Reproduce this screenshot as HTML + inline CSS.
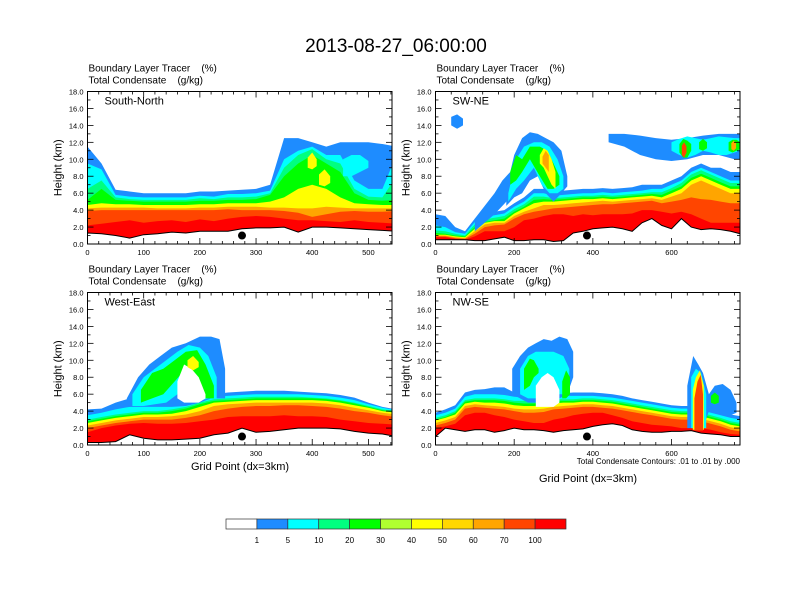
<!DOCTYPE html>
<html><head><meta charset="utf-8">
<style>
html,body{margin:0;padding:0;background:#fff;}
body{width:792px;height:612px;overflow:hidden;font-family:"Liberation Sans",sans-serif;}
svg{display:block}
text{white-space:pre}
</style></head>
<body>
<svg id="fig" width="792" height="612" viewBox="0 0 792 612" xmlns="http://www.w3.org/2000/svg" font-family="Liberation Sans, sans-serif">
<text x="396" y="52" font-size="19" text-anchor="middle">2013-08-27_06:00:00</text>
<g id="panels"></g>
<g id="cbar"></g>
<text x="740" y="464" font-size="8" text-anchor="end">Total Condensate Contours: .01 to .01 by .000</text>
</svg>
<script>
// ---------- colour levels ----------
const levelColors = ["#ffffff","#1e8cff","#00ffff","#00ff80","#00ff00","#b0ff30","#ffff00","#ffd700","#ffa500","#ff4500","#ff0000"];
const levelLabels = ["1","5","10","20","30","40","50","60","70","100"];
const bandNames = ["blue","cyan","springgreen","green","yellow","orange","orangered","red"];
const bandColors = {blue:"#1e8cff",cyan:"#00ffff",springgreen:"#00ff80",green:"#00ff00",yellow:"#ffff00",orange:"#ffa500",orangered:"#ff4500",red:"#ff0000",white:"#ffffff",gold:"#ffd700"};

// ---------- Panel 1 : South-North ----------
const p1x = [0,25,50,75,100,125,150,175,200,225,250,275,300,325,350,375,400,425,450,475,500,525,550];
const p1ground = [1.3,1.2,1.0,0.7,1.1,1.2,1.4,1.3,1.5,1.5,1.5,1.8,1.9,1.9,2.0,1.4,2.0,2.0,1.9,1.8,1.7,1.6,1.5];
const p1red = [2.2,2.4,2.6,2.8,2.5,2.7,2.8,2.6,2.9,2.7,3.0,3.2,3.3,3.2,3.0,2.8,2.8,2.7,2.6,2.8,2.6,2.5,2.4];
const p1orangered = [3.9,4.0,4.0,4.0,4.0,4.0,4.0,4.0,4.0,4.0,4.1,4.0,4.0,4.0,3.9,3.7,3.2,3.5,3.8,3.9,3.8,3.8,3.9];
const p1orange = [4.2,4.3,4.3,4.3,4.3,4.2,4.2,4.2,4.3,4.3,4.4,4.4,4.4,4.3,4.3,4.2,4.2,4.4,4.3,4.2,4.2,4.2,4.2];
const p1yellow = [4.6,4.8,4.7,4.7,4.6,4.6,4.6,4.6,4.7,4.7,4.8,4.8,4.8,5.0,5.5,6.5,7.0,6.5,5.5,4.8,4.7,4.6,4.6];
const p1green = [5.2,6.5,5.2,5.1,5.0,5.0,5.0,5.0,5.1,5.1,5.2,5.2,5.3,5.8,8.0,9.5,10.5,9.5,8.5,6.0,5.2,5.1,5.2];
const p1springgreen = [6.5,7.5,5.5,5.3,5.2,5.2,5.2,5.2,5.4,5.3,5.5,5.5,5.6,6.0,9.0,10.5,11.2,10.0,9.5,6.5,5.6,5.5,8.0];
const p1cyan = [9.5,8.8,5.8,5.6,5.5,5.5,5.5,5.5,5.7,5.6,5.9,5.9,6.0,6.3,10.0,11.0,11.5,10.5,10.5,7.5,6.5,6.5,10.5];
const p1blue = [11.5,9.5,6.4,6.2,6.0,6.0,6.0,6.0,6.2,6.2,6.3,6.4,6.5,7.0,12.5,12.5,12.0,11.5,12.0,12.0,12.0,11.8,11.5];
const p1blobs = [
 {band:"cyan", x:[455,470,485,500], lo:[8.0,8.0,8.5,9.0], hi:[10.0,10.5,10.5,9.8]},
 {band:"yellow", x:[392,400,408], lo:[9.0,8.8,9.2], hi:[10.2,10.8,10.0]},
 {band:"yellow", x:[412,422,432], lo:[7.0,6.8,7.2], hi:[8.2,8.8,8.0]}
];

// ---------- Panel 2 : SW-NE ----------
const p2x = [0,25,50,75,100,125,150,175,200,225,250,275,300,325,350,375,400,425,450,475,500,525,550,575,600,625,650,675,700,725,750,775];
const p2ground = [0.5,0.5,0.5,0.5,0.4,0.4,0.6,0.8,0.4,0.4,0.5,0.5,0.3,0.4,1.3,1.5,1.8,1.9,2.0,1.8,1.5,2.5,3.0,2.2,1.8,3.0,2.0,1.7,1.8,1.7,1.5,1.2];
const p2red = [0.8,0.8,0.6,0.5,0.9,1.5,1.5,1.5,2.0,2.8,3.0,3.3,3.5,3.5,3.3,3.5,3.4,3.5,3.5,3.5,3.6,4.0,4.0,3.8,3.6,3.8,3.5,3.0,2.5,2.5,2.5,2.5];
const p2orangered = [0.9,0.9,0.7,0.6,1.2,2.0,2.2,2.3,3.0,3.5,3.8,4.0,4.2,4.3,4.4,4.5,4.6,4.7,4.7,4.8,4.9,5.0,5.1,4.8,5.0,5.2,5.5,5.3,5.2,5.0,4.8,4.8];
const p2orange = [1.0,1.0,0.8,0.7,1.5,2.3,2.5,2.5,3.3,3.8,4.2,4.6,4.6,4.7,4.8,4.9,5.0,5.1,5.0,5.1,5.2,5.3,5.4,5.2,5.6,6.0,7.0,7.5,7.0,6.5,6.0,6.0];
const p2yellow = [1.1,1.1,0.9,0.8,1.8,2.5,2.7,2.7,3.6,4.2,4.8,5.0,5.0,5.1,5.2,5.3,5.3,5.4,5.3,5.4,5.5,5.6,5.7,5.5,6.0,6.5,7.5,8.0,7.5,7.0,6.5,6.5];
const p2green = [1.3,1.2,1.0,0.9,2.0,2.6,2.8,3.0,3.8,4.4,5.2,5.3,5.2,5.3,5.4,5.5,5.5,5.6,5.5,5.6,5.7,5.8,5.9,5.8,6.3,6.8,7.8,8.3,7.8,7.3,6.8,6.8];
const p2springgreen = [1.6,1.5,1.2,1.0,2.3,2.9,3.1,3.3,4.1,4.7,5.6,5.6,5.4,5.5,5.6,5.7,5.7,5.8,5.7,5.8,5.9,6.0,6.1,6.1,6.6,7.2,8.2,8.7,8.2,7.7,7.2,7.2];
const p2cyan = [2.2,2.0,1.4,1.2,2.6,3.2,3.4,3.6,4.4,5.0,6.0,6.0,5.7,5.8,5.9,6.0,6.0,6.1,6.0,6.1,6.2,6.3,6.5,6.5,7.0,7.5,8.5,9.0,8.5,8.0,7.5,7.5];
const p2blue = [3.5,3.3,2.0,1.5,3.0,3.6,3.8,4.0,4.8,5.5,6.5,6.5,6.2,6.3,6.4,6.5,6.5,6.6,6.5,6.6,6.7,7.0,7.0,7.0,7.5,8.0,9.0,9.5,9.0,9.0,8.5,8.5];
const p2blobs = [
 {band:"blue", x:[40,55,70], lo:[14.0,13.6,14.0], hi:[15.0,15.3,14.8]},
 {band:"blue", x:[100,125,150,170,190], lo:[1.5,2.5,3.5,4.5,5.5], hi:[3.0,4.5,6.0,7.5,8.5]},
 {band:"blue", x:[180,200,220,240,260,280,300,320,335], lo:[4.5,5.5,6.0,7.5,8.0,6.0,5.0,6.0,6.8], hi:[6.5,10.5,12.5,13.2,13.0,12.5,12.0,11.0,8.0]},
 {band:"cyan", x:[185,205,225,250,270,290,310,325], lo:[5.0,6.5,7.5,9.0,7.0,6.0,6.0,6.5], hi:[6.0,10.0,11.5,12.0,12.0,11.5,10.0,8.0]},
 {band:"green", x:[190,205,220,240,265,285,300,315], lo:[7.0,7.5,8.5,10.0,8.0,6.5,6.5,7.0], hi:[8.5,10.5,10.0,11.5,11.5,11.0,9.5,8.0]},
 {band:"yellow", x:[265,275,285,295,305], lo:[9.5,9.0,8.0,7.0,6.5], hi:[10.5,11.3,11.0,10.0,8.5]},
 {band:"orange", x:[272,280,288], lo:[9.5,9.0,8.5], hi:[10.3,11.0,10.5]},
 {band:"blue", x:[440,480,520,560,600,640,680,720,760,775], lo:[12.0,11.5,10.5,10.0,9.8,10.0,10.5,10.5,10.0,10.0], hi:[13.0,13.0,12.8,12.5,12.3,12.5,12.8,13.0,13.0,13.0]},
 {band:"cyan", x:[600,620,640,660,680,700,720,740,760,775], lo:[11.0,10.5,10.2,10.5,11.0,10.8,10.5,10.5,10.8,11.0], hi:[12.0,12.4,12.7,12.5,12.3,12.5,12.7,12.6,12.5,12.5]},
 {band:"green", x:[620,630,640,650], lo:[10.8,10.2,10.2,11.0], hi:[11.8,12.4,12.2,11.8]},
 {band:"orangered", x:[626,632,638], lo:[10.5,10.2,10.8], hi:[11.6,12.0,11.5]},
 {band:"green", x:[670,680,690], lo:[11.2,11.0,11.3], hi:[12.0,12.4,12.0]},
 {band:"green", x:[745,755,765,775], lo:[11.0,10.8,11.0,11.2], hi:[12.0,12.3,12.3,12.0]},
 {band:"orange", x:[752,758,764], lo:[11.2,11.0,11.3], hi:[11.9,12.2,11.9]}
];

// ---------- Panel 3 : West-East ----------
const p3x = [0,25,50,75,100,125,150,175,200,225,250,275,300,325,350,375,400,425,450,475,500,525,550];
const p3ground = [0.3,0.3,0.4,1.2,0.8,0.6,0.6,0.7,0.8,1.2,1.4,2.0,1.5,1.6,1.8,2.0,2.0,2.0,1.9,1.6,1.4,1.3,1.0];
const p3red = [1.5,2.0,2.3,2.5,2.6,2.5,2.5,2.6,2.8,3.0,3.3,3.4,3.4,3.4,3.5,3.4,3.4,3.3,3.0,2.8,2.6,2.5,2.4];
const p3orangered = [2.0,2.3,2.6,2.8,3.0,3.0,3.0,3.2,3.5,4.0,4.3,4.5,4.6,4.6,4.7,4.7,4.6,4.5,4.3,4.0,3.8,3.5,3.3];
const p3orange = [2.3,2.6,2.9,3.1,3.3,3.3,3.4,3.6,4.0,4.6,4.8,4.9,5.0,5.0,5.0,5.0,5.0,4.9,4.7,4.4,4.1,3.8,3.6];
const p3yellow = [2.6,2.9,3.2,3.4,3.6,3.6,3.7,4.0,4.5,5.0,5.1,5.2,5.3,5.3,5.3,5.3,5.3,5.2,5.0,4.7,4.4,4.0,3.8];
const p3green = [2.8,3.1,3.4,3.6,3.8,3.8,4.0,4.3,4.8,5.2,5.3,5.4,5.5,5.5,5.5,5.5,5.5,5.4,5.2,4.9,4.5,4.1,3.9];
const p3springgreen = [3.0,3.3,3.6,3.8,4.0,4.0,4.2,4.5,5.0,5.4,5.5,5.6,5.7,5.7,5.7,5.7,5.6,5.5,5.3,5.0,4.6,4.2,4.0];
const p3cyan = [3.5,3.8,4.2,4.5,4.6,4.7,4.8,5.0,5.3,5.7,5.8,5.9,6.0,6.0,6.0,6.0,5.9,5.8,5.6,5.3,4.8,4.4,4.1];
const p3blue = [4.2,4.3,5.0,5.5,6.0,6.5,7.0,6.0,5.5,6.0,6.2,6.3,6.4,6.4,6.4,6.3,6.2,6.1,5.9,5.6,5.0,4.5,4.2];
const p3blobs = [
 {band:"blue", x:[70,90,110,130,150,175,200,220,235,245], lo:[4.5,4.5,4.5,4.5,4.5,4.6,5.0,5.5,5.5,5.5], hi:[5.5,8.0,9.5,10.5,11.5,12.0,12.8,12.8,12.5,9.0]},
 {band:"cyan", x:[80,100,120,140,160,180,200,215,230], lo:[4.6,4.6,4.8,5.0,6.0,6.0,5.2,5.5,5.5], hi:[6.0,8.0,9.0,10.0,11.0,11.8,11.5,10.5,8.0]},
 {band:"green", x:[95,115,135,155,175,195,210,225], lo:[5.0,5.5,6.0,7.5,9.0,6.5,5.5,5.5], hi:[6.5,8.5,9.0,10.0,11.0,11.2,9.5,7.0]},
 {band:"white", x:[160,172,185,198,210], lo:[5.5,5.0,5.0,5.0,5.5], hi:[7.5,9.5,9.0,8.0,6.0]},
 {band:"yellow", x:[178,188,198], lo:[9.2,8.8,9.2], hi:[10.0,10.5,9.8]}
];

// ---------- Panel 4 : NW-SE ----------
const p4x = [0,25,50,75,100,125,150,175,200,225,250,275,300,325,350,375,400,425,450,475,500,525,550,575,600,625,650,675,700,725,750,775];
const p4ground = [1.0,2.0,1.8,1.6,1.8,1.8,1.5,1.7,2.0,1.8,1.8,1.7,1.5,1.7,1.8,1.9,2.2,2.4,2.5,2.3,1.8,1.6,1.5,1.5,1.6,1.6,1.7,1.4,1.3,1.2,1.0,1.0];
const p4red = [2.0,2.2,2.5,3.5,3.8,3.8,3.5,3.3,3.0,2.8,2.6,2.6,3.0,3.2,3.5,3.7,3.8,3.8,3.5,3.2,2.8,2.6,2.4,2.3,2.2,2.0,2.0,2.0,1.8,1.5,1.3,1.2];
const p4orangered = [2.3,2.6,3.0,4.3,4.5,4.4,4.3,4.2,4.0,3.8,3.8,3.9,4.2,4.3,4.4,4.5,4.5,4.4,4.3,4.1,3.9,3.7,3.5,3.3,3.1,3.0,3.0,2.8,2.5,2.2,1.8,1.6];
const p4orange = [2.6,2.9,3.3,4.6,4.8,4.7,4.6,4.5,4.3,4.2,4.2,4.3,4.5,4.6,4.7,4.8,4.8,4.7,4.6,4.4,4.2,4.0,3.8,3.6,3.4,3.3,3.3,3.1,2.8,2.5,2.1,1.9];
const p4yellow = [2.9,3.2,3.6,4.9,5.1,5.0,5.0,4.9,4.7,4.6,4.6,4.7,4.9,5.0,5.0,5.1,5.1,5.0,4.9,4.7,4.5,4.3,4.1,3.9,3.7,3.6,3.6,3.4,3.1,2.8,2.4,2.2];
const p4green = [3.0,3.3,3.8,5.1,5.3,5.3,5.3,5.2,5.0,4.9,4.9,5.0,5.2,5.2,5.2,5.3,5.3,5.2,5.1,4.9,4.7,4.5,4.3,4.1,3.9,3.8,3.8,3.6,3.3,3.0,2.6,2.4];
const p4springgreen = [3.2,3.5,4.0,5.3,5.5,5.5,5.5,5.4,5.2,5.2,5.2,5.3,5.4,5.4,5.4,5.5,5.5,5.4,5.3,5.1,4.9,4.7,4.5,4.3,4.1,4.0,4.0,3.8,3.5,3.2,2.8,2.6];
const p4cyan = [3.5,3.8,4.3,5.7,6.0,6.0,6.0,5.9,5.7,5.6,5.7,5.8,5.8,5.8,5.8,5.8,5.8,5.7,5.6,5.4,5.2,5.0,4.8,4.6,4.4,4.3,4.3,4.1,3.8,3.5,3.2,3.0];
const p4blue = [3.8,4.2,4.7,6.2,6.5,6.6,6.8,6.8,6.2,6.0,6.0,6.1,6.2,6.1,6.2,6.2,6.2,6.1,6.0,5.8,5.5,5.3,5.1,4.9,4.7,4.6,4.6,4.5,4.2,3.9,3.6,3.4];
const p4blobs = [
 {band:"blue", x:[195,215,235,255,275,295,315,335,350], lo:[6.0,5.5,5.0,5.0,5.0,5.0,5.5,6.0,8.0], hi:[9.0,10.5,11.5,12.0,12.5,12.3,12.8,12.5,11.0]},
 {band:"cyan", x:[215,235,255,275,300,325,340], lo:[6.0,5.5,5.5,6.0,6.0,6.0,6.5], hi:[9.0,10.5,11.0,11.0,11.0,10.5,9.0]},
 {band:"white", x:[255,270,285,300,315], lo:[4.5,4.5,4.5,4.5,5.0], hi:[7.0,8.0,8.5,8.0,6.5]},
 {band:"green", x:[225,240,250,262], lo:[6.5,7.0,8.0,8.5], hi:[9.0,10.2,10.0,9.0]},
 {band:"green", x:[322,332,342], lo:[5.5,5.5,6.0], hi:[7.5,8.8,8.0]},
 {band:"blue", x:[640,655,668,680,695,710,730,750,765], lo:[2.0,2.0,2.0,2.0,4.0,3.8,3.5,3.5,3.8], hi:[7.0,10.5,9.5,8.5,6.0,7.0,7.2,6.5,5.0]},
 {band:"cyan", x:[650,662,675,688], lo:[2.0,2.0,2.0,2.0], hi:[8.0,9.0,8.5,6.0]},
 {band:"green", x:[700,710,720], lo:[5.0,4.8,5.0], hi:[5.8,6.2,5.8]},
 {band:"yellow", x:[654,662,672,682], lo:[1.8,1.8,1.8,1.8], hi:[6.5,8.0,8.8,7.0]},
 {band:"orangered", x:[658,666,674,680], lo:[1.7,1.7,1.7,1.7], hi:[5.5,7.5,8.3,6.0]}
];

// ---------- panel configuration ----------
const panels = [
 {id:"p1", name:"south-north", label:"South-North", L:87.5, T:91.5, R:392, B:244, xmax:542, xticks:[0,100,200,300,400,500], xminor:20,
  xs:p1x, ground:p1ground, bands:{blue:p1blue,cyan:p1cyan,springgreen:p1springgreen,green:p1green,yellow:p1yellow,orange:p1orange,orangered:p1orangered,red:p1red}, blobs:p1blobs, dot:275, xtitle:null},
 {id:"p2", name:"sw-ne", label:"SW-NE", L:435.5, T:91.5, R:740, B:244, xmax:774, xticks:[0,200,400,600], xminor:40,
  xs:p2x, ground:p2ground, bands:{blue:p2blue,cyan:p2cyan,springgreen:p2springgreen,green:p2green,yellow:p2yellow,orange:p2orange,orangered:p2orangered,red:p2red}, blobs:p2blobs, dot:385, xtitle:null},
 {id:"p3", name:"west-east", label:"West-East", L:87.5, T:292.5, R:392, B:445, xmax:542, xticks:[0,100,200,300,400,500], xminor:20,
  xs:p3x, ground:p3ground, bands:{blue:p3blue,cyan:p3cyan,springgreen:p3springgreen,green:p3green,yellow:p3yellow,orange:p3orange,orangered:p3orangered,red:p3red}, blobs:p3blobs, dot:275, xtitle:[240,470]},
 {id:"p4", name:"nw-se", label:"NW-SE", L:435.5, T:292.5, R:740, B:445, xmax:774, xticks:[0,200,400,600], xminor:40,
  xs:p4x, ground:p4ground, bands:{blue:p4blue,cyan:p4cyan,springgreen:p4springgreen,green:p4green,yellow:p4yellow,orange:p4orange,orangered:p4orangered,red:p4red}, blobs:p4blobs, dot:385, xtitle:[588,482]}
];
const yticks = [0,2,4,6,8,10,12,14,16,18];
const NS = "http://www.w3.org/2000/svg";
function mk(tag, attrs, parent){const e=document.createElementNS(NS,tag);for(const k in attrs)e.setAttribute(k,attrs[k]);if(parent)parent.appendChild(e);return e;}
const root = document.getElementById("panels");

panels.forEach(p=>{
  const sx = v => p.L + (v/p.xmax)*(p.R-p.L);
  const sy = v => p.B - (v/18)*(p.B-p.T);
  const g = mk("g",{},root);
  
  
  const t1 = mk("text",{x:p.L+1,y:p.T-20,"font-size":"10"},g); t1.textContent="Boundary Layer Tracer    (%)";
  
  
  const t2 = mk("text",{x:p.L+1,y:p.T-8,"font-size":"10"},g); t2.textContent="Total Condensate    (g/kg)";
  
  
  const clip = mk("clipPath",{id:"clip-"+p.id},g);
  mk("rect",{x:p.L,y:p.T,width:p.R-p.L,height:p.B-p.T},clip);
  const plot = mk("g",{"clip-path":"url(#clip-"+p.id+")"},g);
  
  
  bandNames.forEach(bn=>{
    const top = p.bands[bn];
    let d = "M"+sx(p.xs[0])+","+sy(p.ground[0]);
    p.xs.forEach((x,i)=>{d+=" L"+sx(x).toFixed(1)+","+sy(top[i]).toFixed(1);});
    for(let i=p.xs.length-1;i>=0;i--) d+=" L"+sx(p.xs[i]).toFixed(1)+","+sy(p.ground[i]).toFixed(1);
    const path = mk("path",{d:d+"Z",fill:bandColors[bn]},plot);
    
    
  });
  p.blobs.forEach(b=>{
    let d="";
    b.x.forEach((x,i)=>{d+=(i?" L":"M")+sx(x).toFixed(1)+","+sy(b.hi[i]).toFixed(1);});
    for(let i=b.x.length-1;i>=0;i--) d+=" L"+sx(b.x[i]).toFixed(1)+","+sy(b.lo[i]).toFixed(1);
    const path = mk("path",{d:d+"Z",fill:bandColors[b.band]},plot);
    
    
  });
  let gd = "M"+sx(p.xs[0])+","+sy(0);
  p.xs.forEach((x,i)=>{gd+=" L"+sx(x).toFixed(1)+","+sy(p.ground[i]).toFixed(1);});
  gd += " L"+sx(p.xs[p.xs.length-1])+","+sy(0)+"Z";
  const gm = mk("path",{d:gd,fill:"#fff",stroke:"#000","stroke-width":"1"},plot);
  
  
  const dot = mk("circle",{cx:sx(p.dot),cy:sy(1.0),r:4,fill:"#000"},plot);
  
  
  const fr = mk("rect",{x:p.L,y:p.T,width:p.R-p.L,height:p.B-p.T,fill:"none",stroke:"#000","stroke-width":"1"},g);
  
  
  const ax = mk("g",{stroke:"#000","stroke-width":"0.8"},g);
  
  
  for(let v=0; v<=p.xmax; v+=p.xminor){
    const major = (v % (p.xticks[1]-p.xticks[0]))===0;
    const len = major?6:3;
    mk("line",{x1:sx(v),y1:p.B,x2:sx(v),y2:p.B-len},ax);
    mk("line",{x1:sx(v),y1:p.T,x2:sx(v),y2:p.T+len},ax);
  }
  for(let v=0; v<=18; v+=1){
    const len = (v%2===0)?6:3;
    mk("line",{x1:p.L,y1:sy(v),x2:p.L+len,y2:sy(v)},ax);
    mk("line",{x1:p.R,y1:sy(v),x2:p.R-len,y2:sy(v)},ax);
  }
  p.xticks.forEach(v=>{
    const t = mk("text",{x:sx(v),y:p.B+11,"font-size":"7.5","text-anchor":"middle"},g); t.textContent=String(v);
    
    
  });
  yticks.forEach(v=>{
    const t = mk("text",{x:p.L-4,y:sy(v)+3,"font-size":"7.5","text-anchor":"end"},g); t.textContent=v.toFixed(1);
    
    
  });
  const yt = mk("text",{x:0,y:0,"font-size":"11","text-anchor":"middle",transform:"translate("+(p.L-26)+","+((p.T+p.B)/2)+") rotate(-90)"},g);
  yt.textContent="Height (km)";
  
  
  const lb = mk("text",{x:p.L+17,y:p.T+13,"font-size":"11"},g); lb.textContent=p.label;
  
  
  if(p.xtitle){
    const xt = mk("text",{x:p.xtitle[0],y:p.xtitle[1],"font-size":"11","text-anchor":"middle"},g); xt.textContent="Grid Point (dx=3km)";
    
    
  }
});

const cb = document.getElementById("cbar");
const cbL=226, cbR=566, cbT=519, cbB=529, bw=(cbR-cbL)/levelColors.length;
levelColors.forEach((c,i)=>{
  const r = mk("rect",{x:cbL+i*bw,y:cbT,width:bw,height:cbB-cbT,fill:c,stroke:"#333","stroke-width":"0.7"},cb);
  
  
});
levelLabels.forEach((s,i)=>{
  const t = mk("text",{x:cbL+(i+1)*bw,y:cbB+14,"font-size":"8","text-anchor":"middle"},cb); t.textContent=s;
  
  
});
</script>
</body></html>
